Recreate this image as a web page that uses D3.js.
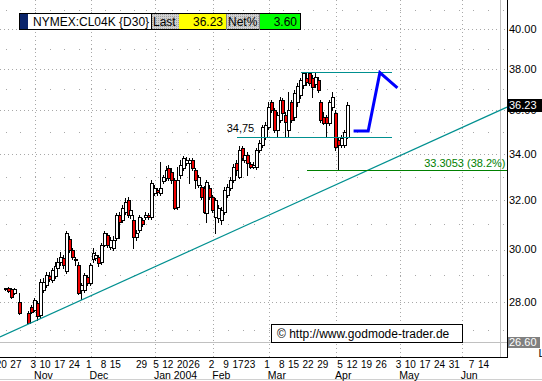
<!DOCTYPE html>
<html><head><meta charset="utf-8">
<script src="https://cdn.jsdelivr.net/npm/d3@7"></script>
<style>
html,body{margin:0;padding:0;background:#fff;}
svg{display:block;font-family:Arial,"Liberation Sans",sans-serif;}
</style></head><body>
<svg id="c" width="542" height="381"></svg>
<script>
// ---------------- data ----------------
const symbol = "NYMEX:CL04K {D30}";
const firstDay = "2003-10-20";
const lastDay = "2004-04-07";
const axisEndDay = "2004-07-01";
const holidays = ["2003-11-27","2003-12-25","2004-01-01","2004-01-19","2004-02-16"];
const open = [28.49,28.53,28.49,28.34,null,28.02,null,null,27.61,27.83,
27.72,27.97,27.54,28.45,28.64,28.98,28.83,28.98,29.29,29.51,
29.67,29.17,30.41,29.98,29.59,29.40,28.45,28.45,28.94,28.72,
29.63,29.67,29.70,29.51,30.18,30.57,30.10,30.06,30.45,31.38,
31.18,31.51,32.00,31.38,31.18,30.49,30.77,31.18,31.30,31.38,
31.30,32.29,32.42,32.29,32.81,32.94,33.37,33.20,32.85,31.71,
33.07,33.37,33.59,33.59,33.72,33.28,32.64,32.55,32.51,31.47,
32.51,32.12,31.30,31.26,31.18,31.51,32.21,32.51,32.85,33.59,
32.98,34.25,33.72,33.94,33.54,33.41,33.41,34.16,34.39,34.75,
35.21,36.37,36.00,35.07,35.53,36.47,35.76,35.07,36.37,35.67,
36.37,36.71,37.19,37.54,37.78,37.54,37.24,37.44,36.37,35.67,
35.67,35.39,36.14,35.86,34.61,34.39,34.39,34.75];
const high = [28.53,28.56,28.53,28.53,null,28.33,null,null,27.68,27.90,
28.16,28.05,28.87,28.91,29.14,29.15,29.29,29.51,29.67,29.90,
29.78,30.73,30.53,30.06,29.70,29.51,28.72,29.10,29.02,29.48,
30.06,29.90,29.78,30.26,30.73,30.65,30.49,30.53,31.46,31.51,
31.80,32.08,32.12,31.80,31.38,30.77,31.38,31.26,31.51,31.46,
32.85,32.64,32.51,33.63,33.07,33.46,33.50,33.37,32.94,33.41,
33.72,33.89,33.85,33.81,33.81,33.37,33.07,32.64,32.60,32.85,
32.64,32.21,32.08,31.80,31.71,32.55,32.68,32.98,33.54,33.72,
34.34,34.34,34.07,34.07,33.63,33.63,34.25,34.61,35.30,35.44,
36.37,36.47,36.09,35.90,36.61,36.56,35.90,36.85,36.47,36.95,
37.29,37.54,37.82,37.78,37.82,37.68,37.78,37.58,36.47,35.90,
35.76,36.47,36.85,36.00,34.75,34.84,35.07,36.37];
const low = [28.45,28.38,28.16,28.31,null,27.58,null,null,27.25,27.61,
27.68,27.36,27.47,28.38,28.56,28.79,28.75,28.91,29.17,29.40,
29.29,29.10,29.90,29.63,29.40,28.31,28.12,28.38,28.64,28.64,
29.51,29.59,29.36,29.44,30.14,30.10,30.02,29.98,30.37,30.45,
31.10,31.42,31.30,31.26,30.06,30.37,30.69,30.94,31.22,31.22,
31.22,32.21,32.21,32.21,32.72,32.85,32.85,32.72,31.63,31.63,
32.94,33.28,33.50,32.72,33.28,32.51,32.55,32.04,31.47,31.10,
32.04,31.51,30.65,31.10,31.02,31.42,32.12,32.42,32.77,33.07,
32.94,33.72,33.63,33.07,33.37,33.37,33.33,34.07,34.30,34.66,
35.12,35.90,34.98,34.75,35.44,35.76,34.75,34.75,35.44,35.53,
36.19,36.56,37.04,37.19,37.19,36.61,37.09,36.85,35.44,35.35,
34.75,35.30,36.00,34.16,33.31,34.30,34.30,34.70];
const close = [28.53,28.41,28.20,28.49,null,27.60,null,null,27.26,27.65,
28.08,27.50,28.75,28.75,29.02,28.87,29.21,29.36,29.51,29.70,
29.40,30.65,29.98,29.70,29.63,28.34,28.64,29.02,28.72,29.40,
29.86,29.78,29.48,30.18,30.65,30.18,30.37,30.37,31.38,31.10,
31.67,31.92,31.38,31.59,30.49,30.65,31.30,31.02,31.38,31.30,
32.72,32.51,32.33,32.51,32.98,33.28,32.94,32.85,31.67,32.85,
33.50,33.81,33.72,33.72,33.37,32.85,32.98,32.12,31.51,32.77,
32.12,31.59,32.00,31.67,31.59,32.42,32.55,32.85,33.41,33.28,
34.16,33.81,33.94,33.59,33.41,33.50,34.16,34.48,35.21,35.30,
36.14,36.00,35.07,35.76,36.47,35.86,35.44,36.00,35.53,36.80,
37.14,37.44,37.78,37.34,37.29,37.09,37.58,36.95,35.53,35.39,
35.39,36.37,36.61,34.30,34.39,34.70,34.97,36.23];

const yMajor = [28,30,32,34,36,38,40];
const yMinor = [27,29,31,33,35,37,39,41];
const dayTicks = ["2003-10-20","2003-10-27","2003-11-03","2003-11-10","2003-11-17","2003-11-24","2003-12-01","2003-12-08","2003-12-15","2003-12-29","2004-01-05","2004-01-12","2004-01-20","2004-01-26","2004-02-02","2004-02-09","2004-02-17","2004-02-23","2004-03-01","2004-03-08","2004-03-15","2004-03-22","2004-03-29","2004-04-05","2004-04-12","2004-04-19","2004-04-26","2004-05-03","2004-05-10","2004-05-17","2004-05-24","2004-05-31","2004-06-07","2004-06-14"];
const monthStarts = ["2003-11-03","2003-12-01","2004-01-02","2004-02-02","2004-03-01","2004-04-01","2004-05-03","2004-06-01"];
const monthLabels = ["Nov","Dec","Jan 2004","Feb","Mar","Apr","May","Jun"];

const trendA = ["2003-11-04", 27.37];
const trendB = ["2004-04-07", 32.88];
const resistance = {value: 37.82, from: "2004-03-16", to: "2004-04-28"};
const support = {value: 34.75, label: "34,75", from: "2004-02-12", to: "2004-04-28"};
const retrace = {value: 33.3053, label: "33.3053 (38.2%)", from: "2004-03-18"};
const projection = [["2004-04-09",35.02],["2004-04-16",35.02],["2004-04-22",37.80],["2004-04-30",37.05]];
const crossValue = 26.60;
const crossDay = "2004-06-18";
const copyright = "\u00A9 http://www.godmode-trader.de";

// ---------------- layout ----------------
const plotR = 507, plotB = 357;
const parse = d3.utcParse("%Y-%m-%d"), fmt = d3.utcFormat("%Y-%m-%d");
const days = d3.utcDays(parse(firstDay), parse(axisEndDay))
  .filter(d => d.getUTCDay() % 6 !== 0).map(fmt)
  .filter(s => !(s <= lastDay && holidays.includes(s)));
const di = s => days.indexOf(s);

const x = d3.scaleLinear().domain([-2, 171.5]).range([0, plotR]);
const y = d3.scaleLog().domain([26.07, 41.56]).range([plotB, 0]);
const xd = s => x(di(s));
const px = v => Math.round(v) + 0.5;

const svg = d3.select("#c");
const defs = svg.append("defs");
const pat = defs.append("pattern").attr("id","dither").attr("width",2).attr("height",2).attr("patternUnits","userSpaceOnUse");
pat.append("rect").attr("width",2).attr("height",2).attr("fill","#d0d0d0");
pat.append("rect").attr("width",1).attr("height",1).attr("fill","#a0a0a0");

svg.append("rect").attr("width",542).attr("height",381).attr("fill","#fff");

const grid = svg.append("g").attr("shape-rendering","crispEdges");
// minor dots on odd rows, weekly
const weekStarts = days.filter((s,i) => i === 0 || d3.utcMonday.floor(parse(s)).getTime() !== d3.utcMonday.floor(parse(days[i-1])).getTime());
yMinor.forEach(v => {
  const yy = Math.round(y(v));
  weekStarts.forEach(s => {
    const xx = Math.round(xd(s));
    if (xx < plotR - 1) grid.append("rect").attr("x",xx).attr("y",yy).attr("width",1).attr("height",1).attr("fill","#a8a8a8");
  });
});
yMajor.forEach(v => {
  grid.append("line").attr("x1",0).attr("x2",plotR).attr("y1",px(y(v))).attr("y2",px(y(v)))
    .attr("stroke","#a8a8a8").attr("stroke-dasharray","1,3");
});
monthStarts.forEach(s => {
  grid.append("line").attr("x1",px(xd(s))).attr("x2",px(xd(s))).attr("y1",0).attr("y2",plotB)
    .attr("stroke","#a8a8a8").attr("stroke-dasharray","1,3");
});
// crosshair
grid.append("line").attr("x1",0).attr("x2",plotR).attr("y1",px(y(crossValue))).attr("y2",px(y(crossValue))).attr("stroke","#c0c0c0");
grid.append("line").attr("x1",px(xd(crossDay))).attr("x2",px(xd(crossDay))).attr("y1",0).attr("y2",plotB).attr("stroke","#c0c0c0");

// candles
const cg = svg.append("g").attr("shape-rendering","crispEdges");
close.forEach((c,i) => {
  if (c == null) return;
  const o = open[i];
  const cx = Math.round(x(i));
  cg.append("line").attr("x1",cx-0.5).attr("x2",cx-0.5)
    .attr("y1",Math.round(y(high[i]))).attr("y2",Math.round(y(low[i]))+1).attr("stroke","#000");
  const t = Math.round(y(Math.max(o,c))), b = Math.round(y(Math.min(o,c)));
  cg.append("rect").attr("x",cx-1.5).attr("y",t+0.5).attr("width",3).attr("height",Math.max(b-t,0))
    .attr("fill", c >= o ? "#fff" : "#f00000").attr("stroke","#000");
});

// trend line (straight on the log chart), extended across the plot
(function(){
  const i1 = di(trendA[0]), i2 = di(trendB[0]);
  const l1 = Math.log(trendA[1]), l2 = Math.log(trendB[1]);
  const at = i => Math.exp(l1 + (l2-l1)*(i-i1)/(i2-i1));
  const s = x.invert(0), e = x.invert(plotR);
  svg.append("line").attr("x1",x(s)).attr("y1",y(at(s))).attr("x2",x(e)).attr("y2",y(at(e)))
    .attr("stroke","#009090").attr("stroke-width",1.2);
})();

const lg = svg.append("g").attr("shape-rendering","crispEdges");
lg.append("line").attr("x1",xd(resistance.from)).attr("x2",xd(resistance.to))
  .attr("y1",px(y(resistance.value))).attr("y2",px(y(resistance.value))).attr("stroke","#009090").attr("stroke-width",1);
lg.append("line").attr("x1",xd(support.from)).attr("x2",xd(support.to))
  .attr("y1",px(y(support.value))).attr("y2",px(y(support.value))).attr("stroke","#009090").attr("stroke-width",1);
lg.append("line").attr("x1",xd(retrace.from)).attr("x2",plotR)
  .attr("y1",px(y(retrace.value))).attr("y2",px(y(retrace.value))).attr("stroke","#008000").attr("stroke-width",1);

svg.append("text").attr("x",xd(support.from)-10).attr("y",y(support.value)-5)
  .attr("font-size",11).attr("fill","#000").text(support.label);
svg.append("text").attr("x",plotR-1.5).attr("y",y(retrace.value)-3).attr("text-anchor","end")
  .attr("font-size",11).attr("fill","#008000").text(retrace.label);

// projection
svg.append("path").attr("d", d3.line().x(d=>xd(d[0])).y(d=>y(d[1]))(projection))
  .attr("fill","none").attr("stroke","#0000ff").attr("stroke-width",3).attr("stroke-linejoin","miter");

// watermark
svg.append("rect").attr("x",271.5).attr("y",324.5).attr("width",191).attr("height",18)
  .attr("fill","#fff").attr("stroke","#000").attr("shape-rendering","crispEdges");
svg.append("text").attr("x",277).attr("y",338).attr("font-size",12).text(copyright);

// axes
const ag = svg.append("g").attr("shape-rendering","crispEdges");
ag.append("line").attr("x1",0).attr("x2",plotR+0.5).attr("y1",plotB+0.5).attr("y2",plotB+0.5).attr("stroke","#000");
ag.append("line").attr("x1",plotR+0.5).attr("x2",plotR+0.5).attr("y1",0).attr("y2",plotB+0.5).attr("stroke","#000");

yMajor.forEach(v => {
  svg.append("text").attr("x",509).attr("y",y(v)).attr("dy","0.36em").attr("font-size",11).text(v.toFixed(2));
});
const last = close[close.length-1];
const prev = close[close.length-2];
svg.append("rect").attr("x",508).attr("y",Math.round(y(last))-6).attr("width",34).attr("height",13).attr("fill","#000").attr("shape-rendering","crispEdges");
svg.append("text").attr("x",509).attr("y",y(last)).attr("dy","0.36em").attr("font-size",11).attr("fill","#fff").text(last.toFixed(2));
svg.append("rect").attr("x",508).attr("y",Math.round(y(crossValue))-5.5).attr("width",32).attr("height",11).attr("fill","#808080").attr("shape-rendering","crispEdges");
svg.append("text").attr("x",509).attr("y",y(crossValue)).attr("dy","0.36em").attr("font-size",11).attr("fill","#fff").text(crossValue.toFixed(2));

// x labels
dayTicks.forEach(s => {
  svg.append("text").attr("x",xd(s)+1).attr("y",368).attr("text-anchor","end").attr("font-size",10).text(+s.slice(8));
});
monthStarts.forEach((s,k) => {
  svg.append("text").attr("x",xd(s)-1).attr("y",378.5).attr("font-size",10.5).text(monthLabels[k]);
});
svg.append("text").attr("x",538.5).attr("y",357).attr("font-size",11).text("L");
ag.append("line").attr("x1",0).attr("x2",542).attr("y1",379.5).attr("y2",379.5).attr("stroke","#d0d0d0");

// header
const hg = svg.append("g").attr("shape-rendering","crispEdges");
const hy = 13.5, hh = 16;
hg.append("rect").attr("x",19.5).attr("y",hy).attr("width",8).attr("height",hh).attr("fill","#0a246a");
hg.append("rect").attr("x",27.5).attr("y",hy).attr("width",124).attr("height",hh).attr("fill","#fff");
hg.append("rect").attr("x",151.5).attr("y",hy).attr("width",27).attr("height",hh).attr("fill","url(#dither)");
hg.append("rect").attr("x",178.5).attr("y",hy).attr("width",48).attr("height",hh).attr("fill","#ffff00");
hg.append("rect").attr("x",226.5).attr("y",hy).attr("width",33).attr("height",hh).attr("fill","url(#dither)");
hg.append("rect").attr("x",259.5).attr("y",hy).attr("width",41).attr("height",hh).attr("fill","#00ff00");
hg.append("rect").attr("x",19.5).attr("y",hy).attr("width",281).attr("height",hh).attr("fill","none").attr("stroke","#000");
hg.append("line").attr("x1",151.5).attr("x2",151.5).attr("y1",hy).attr("y2",hy+hh).attr("stroke","#000");
hg.append("line").attr("x1",226.5).attr("x2",226.5).attr("y1",hy).attr("y2",hy+hh).attr("stroke","#808080");
hg.append("line").attr("x1",259.5).attr("x2",259.5).attr("y1",hy).attr("y2",hy+hh).attr("stroke","#808080");
svg.append("text").attr("x",33).attr("y",26).attr("font-size",12).text(symbol);
svg.append("text").attr("x",153).attr("y",26).attr("font-size",12).text("Last");
svg.append("text").attr("x",223).attr("y",26).attr("font-size",12).attr("text-anchor","end").text(last.toFixed(2));
svg.append("text").attr("x",228).attr("y",26).attr("font-size",12).text("Net%");
svg.append("text").attr("x",297).attr("y",26).attr("font-size",12).attr("text-anchor","end").text(((last/prev-1)*100).toFixed(2));
</script>
</body></html>
